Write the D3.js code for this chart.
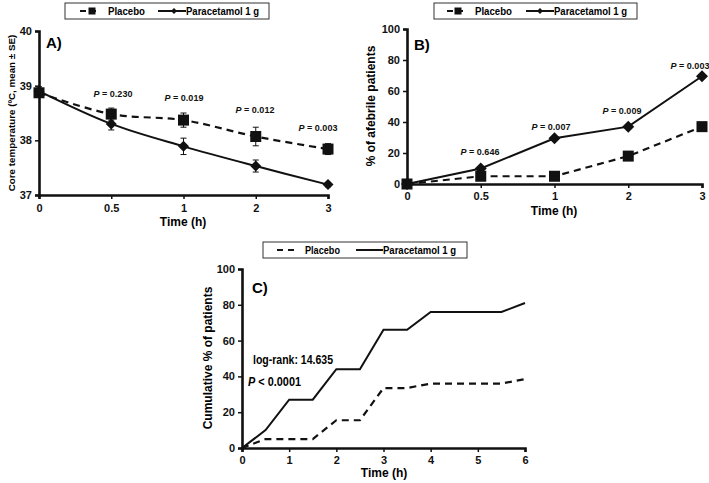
<!DOCTYPE html>
<html>
<head>
<meta charset="utf-8">
<script src="https://cdn.jsdelivr.net/npm/d3@7"></script>
<style>
  body { margin: 0; background: #fff; }
  svg { display: block; font-family: "Liberation Sans", Arial, sans-serif; }
  .axis text { font-weight: bold; font-size: 11px; fill: #111; }
  .axis path, .axis line { stroke: #111; }
</style>
</head>
<body>
<svg id="stage" width="709" height="483"></svg>
<script>
// ---- data ----
const timesAB = ["0", "0.5", "1", "2", "3"];

const tempPlacebo = [38.87, 38.48, 38.37, 38.07, 37.84];
const tempPlaceboSE = [0.08, 0.11, 0.13, 0.17, 0.10];
const tempPara = [38.90, 38.30, 37.89, 37.53, 37.19];
const tempParaSE = [0.08, 0.11, 0.15, 0.11, 0.04];
const tempP = ["0.230", "0.019", "0.012", "0.003"];

const afebPlacebo = [0, 5, 5, 18, 37];
const afebPara = [0, 10, 29.5, 37, 69.5];
const afebP = ["0.646", "0.007", "0.009", "0.003"];

const cumTimes = [0, 0.5, 1, 1.5, 2, 2.5, 3, 3.5, 4, 4.5, 5, 5.5, 6];
const cumPlacebo = [0, 5, 5, 5, 15.5, 15.5, 33.5, 33.5, 36, 36, 36, 36, 38.5];
const cumPara = [0, 10, 27, 27, 44, 44, 66, 66, 76, 76, 76, 76, 81];

const svg = d3.select("#stage");

function styleAxis(g){
  g.select(".domain").attr("stroke-width", 2.6);
  g.selectAll(".tick line").attr("stroke-width", 1.5);
}

function legend(x, y, w){
  const g = svg.append("g").attr("transform", `translate(${x},${y})`);
  g.append("rect").attr("x", 0).attr("y", 0).attr("width", w).attr("height", 16)
    .attr("fill", "#fff").attr("stroke", "#333").attr("stroke-width", 1);
  return g;
}

function legendText(g, x, txt, len){
  g.append("text").attr("x", x).attr("y", 12.3).attr("font-size", 11).attr("font-weight", "bold")
    .attr("textLength", len).attr("lengthAdjust", "spacingAndGlyphs").text(txt);
}

function pLabel(x, y, val){
  const t = svg.append("text").attr("x", x).attr("y", y)
    .attr("text-anchor", "middle").attr("font-size", 9)
    .attr("font-weight", "bold").attr("fill", "#111");
  t.append("tspan").attr("font-style", "italic").text("P");
  t.append("tspan").text(" = " + val);
}

function square(g, x, y, s){
  g.append("rect").attr("x", x - s/2).attr("y", y - s/2).attr("width", s).attr("height", s).attr("fill", "#111");
}
function diamond(g, x, y, s){
  g.append("path").attr("d", `M${x},${y-s/2}L${x+s/2},${y}L${x},${y+s/2}L${x-s/2},${y}Z`).attr("fill", "#111");
}

// ================= Panel A =================
{
  const x = d3.scalePoint().domain(timesAB).range([39, 328]).padding(0);
  const y = d3.scaleLinear().domain([37, 40]).range([195, 31]);

  const gx = svg.append("g").attr("class", "axis").attr("transform", "translate(0,195)")
    .call(d3.axisBottom(x).tickSize(4).tickPadding(5));
  const gy = svg.append("g").attr("class", "axis").attr("transform", "translate(39,0)")
    .call(d3.axisLeft(y).ticks(3).tickSize(4).tickPadding(3).tickFormat(d3.format("d")));
  styleAxis(gx); styleAxis(gy);

  const line = d3.line().x((d, i) => x(timesAB[i])).y(d => y(d)).curve(d3.curveCatmullRom.alpha(0.5));
  const g = svg.append("g");
  g.append("path").datum(tempPlacebo).attr("d", line).attr("fill", "none")
    .attr("stroke", "#111").attr("stroke-width", 2.2).attr("stroke-dasharray", "7,5");
  g.append("path").datum(tempPara).attr("d", line).attr("fill", "none")
    .attr("stroke", "#111").attr("stroke-width", 2);

  [[tempPlacebo, tempPlaceboSE], [tempPara, tempParaSE]].forEach(([v, se]) => {
    v.forEach((d, i) => {
      const cx = x(timesAB[i]);
      g.append("line").attr("x1", cx).attr("x2", cx).attr("y1", y(d + se[i])).attr("y2", y(d - se[i]))
        .attr("stroke", "#111").attr("stroke-width", 1);
      [d + se[i], d - se[i]].forEach(e => g.append("line").attr("x1", cx - 3).attr("x2", cx + 3)
        .attr("y1", y(e)).attr("y2", y(e)).attr("stroke", "#111").attr("stroke-width", 1));
    });
  });
  tempPlacebo.forEach((d, i) => square(g, x(timesAB[i]), y(d), 11));
  tempPara.forEach((d, i) => diamond(g, x(timesAB[i]), y(d), 11));

  const pPos = [[113, 97], [184, 101], [255, 113], [318, 131]];
  tempP.forEach((p, i) => pLabel(pPos[i][0], pPos[i][1], p));

  svg.append("text").attr("x", 46).attr("y", 48).attr("font-size", 15).attr("font-weight", "bold").text("A)");
  svg.append("text").attr("x", 183).attr("y", 226).attr("text-anchor", "middle")
    .attr("font-size", 12).attr("font-weight", "bold").text("Time (h)");
  svg.append("text").attr("transform", "translate(15,113) rotate(-90)").attr("text-anchor", "middle")
    .attr("font-size", 9.8).attr("font-weight", "bold").text("Core temperature (ºC, mean ± SE)");

  const lg = legend(65, 3, 204);
  lg.append("line").attr("x1", 15).attr("x2", 35).attr("y1", 8).attr("y2", 8).attr("stroke", "#111")
    .attr("stroke-width", 2).attr("stroke-dasharray", "6,4");
  square(lg, 27, 8, 7);
  legendText(lg, 43, "Placebo", 37);
  lg.append("line").attr("x1", 93).attr("x2", 121).attr("y1", 8).attr("y2", 8).attr("stroke", "#111").attr("stroke-width", 2);
  diamond(lg, 109, 8, 6);
  legendText(lg, 121, "Paracetamol 1 g", 73);
}

// ================= Panel B =================
{
  const x = d3.scalePoint().domain(timesAB).range([407, 702]).padding(0);
  const y = d3.scaleLinear().domain([0, 100]).range([184, 29]);

  const gx = svg.append("g").attr("class", "axis").attr("transform", "translate(0,184)")
    .call(d3.axisBottom(x).tickSize(4).tickPadding(4));
  const gy = svg.append("g").attr("class", "axis").attr("transform", "translate(407,0)")
    .call(d3.axisLeft(y).ticks(5).tickSize(4).tickPadding(3));
  styleAxis(gx); styleAxis(gy);

  const line = d3.line().x((d, i) => x(timesAB[i])).y(d => y(d));
  const g = svg.append("g");
  g.append("path").datum(afebPlacebo).attr("d", line).attr("fill", "none")
    .attr("stroke", "#111").attr("stroke-width", 2.2).attr("stroke-dasharray", "7,5");
  g.append("path").datum(afebPara).attr("d", line).attr("fill", "none")
    .attr("stroke", "#111").attr("stroke-width", 2);
  afebPara.forEach((d, i) => diamond(g, x(timesAB[i]), y(d), 12));
  afebPlacebo.forEach((d, i) => square(g, x(timesAB[i]), y(d), 11));

  const pPos = [[480, 155], [551, 130], [622, 114], [690, 69]];
  afebP.forEach((p, i) => pLabel(pPos[i][0], pPos[i][1], p));

  svg.append("text").attr("x", 414).attr("y", 50).attr("font-size", 15).attr("font-weight", "bold").text("B)");
  svg.append("text").attr("x", 554).attr("y", 215).attr("text-anchor", "middle")
    .attr("font-size", 12).attr("font-weight", "bold").text("Time (h)");
  svg.append("text").attr("transform", "translate(375,106) rotate(-90)").attr("text-anchor", "middle")
    .attr("font-size", 12).attr("font-weight", "bold").text("% of afebrile patients");

  const lg = legend(434, 3, 203);
  lg.append("line").attr("x1", 13).attr("x2", 30).attr("y1", 8).attr("y2", 8).attr("stroke", "#111")
    .attr("stroke-width", 2).attr("stroke-dasharray", "6,4");
  square(lg, 24, 8, 7);
  legendText(lg, 41, "Placebo", 37);
  lg.append("line").attr("x1", 92).attr("x2", 120).attr("y1", 8).attr("y2", 8).attr("stroke", "#111").attr("stroke-width", 2);
  diamond(lg, 106, 8, 6);
  legendText(lg, 120, "Paracetamol 1 g", 73);
}

// ================= Panel C =================
{
  const x = d3.scaleLinear().domain([0, 6]).range([242, 525]);
  const y = d3.scaleLinear().domain([0, 100]).range([448, 269]);

  const gx = svg.append("g").attr("class", "axis").attr("transform", "translate(0,448)")
    .call(d3.axisBottom(x).ticks(6).tickSize(4).tickPadding(4));
  const gy = svg.append("g").attr("class", "axis").attr("transform", "translate(242,0)")
    .call(d3.axisLeft(y).ticks(5).tickSize(4).tickPadding(3));
  styleAxis(gx); styleAxis(gy);

  const line = d3.line().x((d, i) => x(cumTimes[i])).y(d => y(d));
  svg.append("path").datum(cumPlacebo).attr("d", line).attr("fill", "none")
    .attr("stroke", "#111").attr("stroke-width", 2.2).attr("stroke-dasharray", "7,5");
  svg.append("path").datum(cumPara).attr("d", line).attr("fill", "none")
    .attr("stroke", "#111").attr("stroke-width", 2);

  svg.append("text").attr("x", 252).attr("y", 293).attr("font-size", 15).attr("font-weight", "bold").text("C)");
  svg.append("text").attr("x", 253).attr("y", 364).attr("font-size", 12).attr("font-weight", "bold")
    .attr("textLength", 80).attr("lengthAdjust", "spacingAndGlyphs").text("log-rank: 14.635");
  const pt = svg.append("text").attr("x", 248).attr("y", 386).attr("font-size", 12.5).attr("font-weight", "bold")
    .attr("textLength", 53).attr("lengthAdjust", "spacingAndGlyphs");
  pt.append("tspan").attr("font-style", "italic").text("P");
  pt.append("tspan").text(" < 0.0001");
  svg.append("text").attr("x", 384).attr("y", 477).attr("text-anchor", "middle")
    .attr("font-size", 12).attr("font-weight", "bold").text("Time (h)");
  svg.append("text").attr("transform", "translate(212,358) rotate(-90)").attr("text-anchor", "middle")
    .attr("font-size", 12).attr("font-weight", "bold").text("Cumulative % of patients");

  const lg = legend(263, 242, 204);
  lg.append("line").attr("x1", 14).attr("x2", 32).attr("y1", 8).attr("y2", 8).attr("stroke", "#111")
    .attr("stroke-width", 2).attr("stroke-dasharray", "6,5");
  legendText(lg, 42, "Placebo", 35);
  lg.append("line").attr("x1", 93).attr("x2", 120).attr("y1", 8).attr("y2", 8).attr("stroke", "#111").attr("stroke-width", 2);
  legendText(lg, 120, "Paracetamol 1 g", 73);
}
</script>
</body>
</html>
